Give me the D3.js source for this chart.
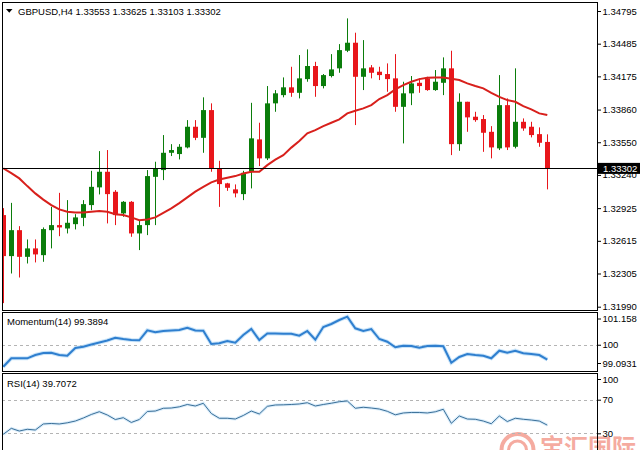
<!DOCTYPE html>
<html><head><meta charset="utf-8">
<script src="https://cdn.jsdelivr.net/npm/d3@7"></script>
<style>html,body{margin:0;padding:0;background:#fff;} svg{display:block;font-family:"Liberation Sans",Arial,sans-serif;}</style>
</head><body><svg id="c" width="640" height="450"></svg>
<script>
const symbol = "GBPUSD,H4";
const opens = [1.32859,1.32470,1.32716,1.32463,1.32543,1.32479,1.32716,1.32764,1.32732,1.32773,1.32833,1.32954,1.33122,1.33270,1.33080,1.32875,1.32985,1.32685,1.32764,1.33222,1.33286,1.33450,1.33438,1.33501,1.33697,1.33592,1.33855,1.33302,1.33160,1.33103,1.33058,1.33270,1.33577,1.33397,1.33919,1.33997,1.34071,1.34019,1.34149,1.34273,1.34083,1.34178,1.34251,1.34418,1.34494,1.34171,1.34260,1.34219,1.34197,1.34156,1.33886,1.34014,1.34114,1.34156,1.34045,1.34114,1.34251,1.33532,1.33934,1.33792,1.33770,1.33649,1.33492,1.33902,1.33507,1.33744,1.33697,1.33627,1.33553];
const highs = [1.32925,1.32975,1.32754,1.32628,1.32628,1.32742,1.32937,1.33070,1.33001,1.32868,1.33001,1.33279,1.33466,1.33476,1.33096,1.32992,1.32992,1.32811,1.33286,1.33365,1.33618,1.33532,1.33532,1.33760,1.33760,1.33976,1.33919,1.33374,1.33165,1.33150,1.33279,1.33924,1.33735,1.34083,1.34045,1.34165,1.34266,1.34377,1.34431,1.34313,1.34197,1.34386,1.34481,1.34725,1.34589,1.34519,1.34282,1.34266,1.34298,1.34386,1.34124,1.34178,1.34156,1.34171,1.34235,1.34355,1.34418,1.34014,1.33934,1.33839,1.33808,1.33703,1.34187,1.33966,1.34251,1.33776,1.33744,1.33691,1.33625];
const lows = [1.32024,1.32305,1.32267,1.32400,1.32410,1.32416,1.32543,1.32659,1.32685,1.32723,1.32754,1.32906,1.33055,1.32780,1.32764,1.32843,1.32653,1.32527,1.32669,1.32764,1.33191,1.33419,1.33387,1.33492,1.33570,1.33450,1.33270,1.32937,1.33089,1.33027,1.33001,1.33112,1.33324,1.33381,1.33839,1.33976,1.33981,1.33966,1.34124,1.33981,1.34061,1.34165,1.34209,1.34405,1.33713,1.34045,1.34156,1.34140,1.34029,1.33839,1.33539,1.33902,1.34019,1.34038,1.34038,1.33997,1.33428,1.33469,1.33649,1.33744,1.33459,1.33397,1.33476,1.33476,1.33492,1.33659,1.33596,1.33507,1.33103];
const closes = [1.32470,1.32716,1.32463,1.32543,1.32486,1.32726,1.32764,1.32742,1.32786,1.32837,1.32963,1.33127,1.33270,1.33058,1.32859,1.32985,1.32685,1.32764,1.33229,1.33302,1.33450,1.33476,1.33507,1.33697,1.33592,1.33855,1.33302,1.33153,1.33118,1.33065,1.33260,1.33587,1.33397,1.33919,1.34014,1.34071,1.34019,1.34156,1.34273,1.34083,1.34187,1.34241,1.34424,1.34494,1.34171,1.34251,1.34209,1.34187,1.34149,1.33886,1.34014,1.34108,1.34083,1.34045,1.34124,1.34251,1.33532,1.33934,1.33786,1.33760,1.33640,1.33501,1.33902,1.33501,1.33744,1.33681,1.33618,1.33545,1.33302];
const maValues = [1.33302,1.33257,1.33207,1.33134,1.33065,1.33006,1.32954,1.32913,1.32890,1.32884,1.32884,1.32890,1.32897,1.32890,1.32868,1.32859,1.32837,1.32811,1.32818,1.32837,1.32881,1.32922,1.32973,1.33027,1.33082,1.33127,1.33169,1.33197,1.33213,1.33229,1.33254,1.33270,1.33270,1.33333,1.33385,1.33428,1.33499,1.33561,1.33634,1.33665,1.33703,1.33735,1.33767,1.33824,1.33849,1.33871,1.33902,1.33960,1.33997,1.34052,1.34092,1.34124,1.34149,1.34162,1.34165,1.34165,1.34152,1.34140,1.34108,1.34083,1.34061,1.34019,1.33981,1.33950,1.33934,1.33893,1.33862,1.33824,1.33808];
const momentum = [99.093,99.440,99.440,99.440,99.576,99.659,99.671,99.576,99.547,99.865,99.919,100.010,100.093,100.175,100.291,100.237,100.196,100.183,100.597,100.514,100.568,100.588,100.609,100.704,100.588,100.580,100.031,100.060,100.155,100.084,100.402,100.650,100.196,100.464,100.464,100.456,100.456,100.373,100.568,100.208,100.733,100.857,101.022,101.158,100.679,100.568,100.650,100.237,100.126,99.894,99.960,99.948,99.878,99.948,99.960,99.936,99.258,99.494,99.618,99.576,99.547,99.440,99.754,99.671,99.754,99.646,99.618,99.576,99.3894];
const rsi = [28.8,35.9,32.7,34.8,33.9,41.1,41.7,41.1,42.5,44.6,48.2,52.4,55.7,51.8,46.4,48.6,42.9,46.4,56.0,56.5,59.8,60.1,61.5,64.3,62.5,65.7,53.6,47.9,47.9,47.0,51.2,56.5,53.0,62.1,63.7,63.9,64.3,64.9,66.4,62.5,64.3,65.8,67.6,68.5,59.8,61.0,60.1,58.9,56.2,52.0,54.2,54.8,54.8,54.2,55.6,58.6,41.9,50.6,47.0,46.7,44.6,41.4,50.6,44.0,47.9,46.7,45.8,44.6,39.7072];
const priceTicks = ["1.34795","1.34485","1.34175","1.33860","1.33550","1.33240","1.32925","1.32615","1.32305","1.31990"];
const momTicks = ["101.158","100","99.0931"];
const rsiTicks = ["100","70","30"];
const lastPrice = "1.33302";
const headerText = "GBPUSD,H4  1.33553 1.33625 1.33103 1.33302";
const momLabel = "Momentum(14) 99.3894";
const rsiLabel = "RSI(14) 39.7072";
const watermark = "宝汇国际";

const svg = d3.select("#c");
const L = 2, R = 597;
const P = {main:[2,310], mom:[312,371], rsi:[373,455]};
const UP = "#0b7d0b", DN = "#e8161b";

const x = d3.scaleLinear().domain([0, opens.length - 1]).range([3.3, 547.3]);
const y = d3.scaleLinear().domain([1.31990, 1.34795]).range([306.7, 11]);
const ym = d3.scaleLinear().domain([99.0931, 101.158]).range([366.7, 316.7]);
const yr = d3.scaleLinear().domain([30, 70]).range([433.3, 399.7]);

svg.append("rect").attr("width",640).attr("height",450).attr("fill","#fff");

const defs = svg.append("defs");
Object.entries(P).forEach(([k,[t,b]]) => {
  defs.append("clipPath").attr("id","clip-"+k).append("rect")
    .attr("x", L+1).attr("y", t+1).attr("width", R-L-1).attr("height", b-t-1);
});

// watermark (under lines)
const wm = svg.append("g").attr("opacity",0.6);
wm.append("circle").attr("cx",517.5).attr("cy",450).attr("r",16).attr("fill","none").attr("stroke","#ef7462").attr("stroke-width",4);
wm.append("circle").attr("cx",517.5).attr("cy",450).attr("r",9).attr("fill","none").attr("stroke","#ef7462").attr("stroke-width",3);
wm.append("text").attr("x",540).attr("y",456).attr("font-family","'Noto Sans CJK SC'").attr("font-weight","bold")
  .attr("font-size",24).attr("fill","#ef7462").text(watermark);

// panel frames
Object.values(P).forEach(([t,b]) => {
  svg.append("rect").attr("x",L+0.5).attr("y",t+0.5).attr("width",R-L).attr("height",b-t)
    .attr("fill","none").attr("stroke","#000").attr("stroke-width",1);
});

// ---- main panel
const gMain = svg.append("g").attr("clip-path","url(#clip-main)");
const idx = d3.range(opens.length);
const cx = i => Math.round(x(i)) + 0.5;
gMain.selectAll("line.wick").data(idx).join("line")
  .attr("x1",cx).attr("x2",cx)
  .attr("y1",i=>y(highs[i])).attr("y2",i=>y(lows[i]))
  .attr("stroke",i=>closes[i]>=opens[i]?UP:DN).attr("stroke-width",1);
gMain.selectAll("rect.body").data(idx).join("rect")
  .attr("x",i=>Math.round(x(i))-2).attr("width",5)
  .attr("y",i=>Math.min(y(opens[i]),y(closes[i])))
  .attr("height",i=>Math.max(1,Math.abs(y(opens[i])-y(closes[i]))))
  .attr("fill",i=>closes[i]>=opens[i]?UP:DN);

gMain.append("path").datum(idx)
  .attr("d", d3.line().x(i=>x(i)).y(i=>y(maValues[i])))
  .attr("fill","none").attr("stroke","#d8201c").attr("stroke-width",2);

svg.append("line").attr("x1",L).attr("x2",R).attr("y1",Math.round(y(+lastPrice))+0.5).attr("y2",Math.round(y(+lastPrice))+0.5)
  .attr("stroke","#000").attr("stroke-width",1);

// header
svg.append("path").attr("d","M6,9 L12.5,9 L9.25,12.8 Z").attr("fill","#000");
svg.append("text").attr("x",18).attr("y",14.5).attr("font-size",9.5).attr("fill","#000").text(headerText);

function styleAxis(g, ticks, top, bottom){
  g.select(".domain").remove();
  g.selectAll(".tick line").attr("stroke","#000");
  g.selectAll(".tick text").attr("font-size",9.5).attr("font-family","'Liberation Sans',Arial,sans-serif").attr("fill","#000").attr("x",5.5);
  g.selectAll(".tick").attr("transform", function(){
    const m = /translate\(([^,]+),([^)]+)\)/.exec(this.getAttribute("transform"));
    let ty = +m[2];
    ty = Math.max(top+6.5, Math.min(bottom-6.5, ty));
    return `translate(0,${ty})`;
  });
}
const axMain = svg.append("g").attr("transform",`translate(${R},0)`)
  .call(d3.axisRight(y).tickValues(priceTicks.map(Number)).tickFormat((d,i)=>priceTicks[i]).tickSize(4));
styleAxis(axMain, priceTicks, 2, 314);

// last price tag
const lpY = y(+lastPrice);
svg.append("rect").attr("x",598).attr("y",lpY-5.5).attr("width",42).attr("height",11).attr("fill","#000");
svg.append("text").attr("x",603).attr("y",lpY+3.5).attr("font-size",9.5).attr("fill","#fff").text(lastPrice);

// ---- momentum panel
const gMom = svg.append("g").attr("clip-path","url(#clip-mom)");
gMom.append("line").attr("x1",L).attr("x2",R).attr("y1",Math.round(ym(100))+0.5).attr("y2",Math.round(ym(100))+0.5)
  .attr("stroke","#b4b4b4").attr("stroke-dasharray","3,3");
gMom.append("path").datum(idx)
  .attr("d", d3.line().x(i=>x(i)).y(i=>ym(momentum[i])))
  .attr("fill","none").attr("stroke","#a9d3f5").attr("stroke-width",4).attr("opacity",0.6);
gMom.append("path").datum(idx)
  .attr("d", d3.line().x(i=>x(i)).y(i=>ym(momentum[i])))
  .attr("fill","none").attr("stroke","#2f7fcf").attr("stroke-width",2);
svg.append("text").attr("x",7).attr("y",325).attr("font-size",9.5).attr("fill","#000").text(momLabel);
const axMom = svg.append("g").attr("transform",`translate(${R},0)`)
  .call(d3.axisRight(ym).tickValues(momTicks.map(Number)).tickFormat((d,i)=>momTicks[i]).tickSize(4));
styleAxis(axMom, momTicks, 312.5, 370);

// ---- RSI panel
const gRsi = svg.append("g").attr("clip-path","url(#clip-rsi)");
[70,30].forEach(v => gRsi.append("line").attr("x1",L).attr("x2",R)
  .attr("y1",Math.round(yr(v))+0.5).attr("y2",Math.round(yr(v))+0.5)
  .attr("stroke","#b4b4b4").attr("stroke-dasharray","3,3"));
gRsi.append("path").datum(idx)
  .attr("d", d3.line().x(i=>x(i)).y(i=>yr(rsi[i])))
  .attr("fill","none").attr("stroke","#bfe0f7").attr("stroke-width",3).attr("opacity",0.6);
gRsi.append("path").datum(idx)
  .attr("d", d3.line().x(i=>x(i)).y(i=>yr(rsi[i])))
  .attr("fill","none").attr("stroke","#3a6f98").attr("stroke-width",1);
svg.append("text").attr("x",7).attr("y",386.5).attr("font-size",9.5).attr("fill","#000").text(rsiLabel);
const axRsi = svg.append("g").attr("transform",`translate(${R},0)`)
  .call(d3.axisRight(yr).tickValues(rsiTicks.map(Number)).tickFormat((d,i)=>rsiTicks[i]).tickSize(4));
styleAxis(axRsi, rsiTicks, 373, 460);
</script></body></html>
